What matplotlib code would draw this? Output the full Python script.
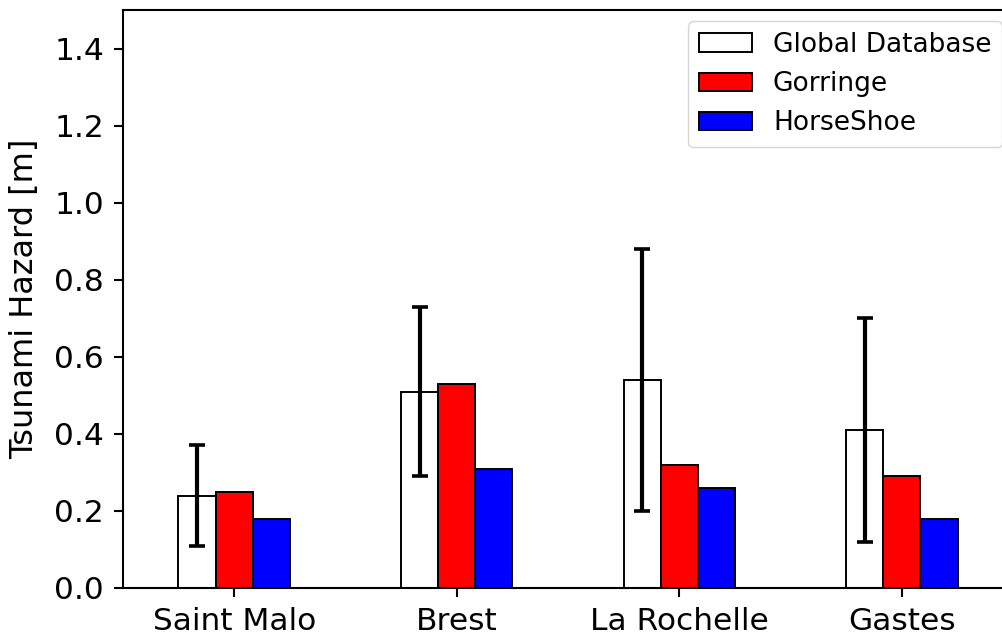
import numpy as np
import matplotlib
matplotlib.use('Agg')
import matplotlib.pyplot as plt

# 数据
sites = ['Saint Malo', 'Brest', 'La Rochelle', 'Gastes']
global_db = [0.24, 0.51, 0.54, 0.41]
global_err = [0.13, 0.22, 0.34, 0.29]
gorringe = [0.25, 0.53, 0.32, 0.29]
horseshoe = [0.18, 0.31, 0.26, 0.18]
series_labels = ['Global Database', 'Gorringe', 'HorseShoe']

fig = plt.figure(figsize=(10.03, 6.38), dpi=100)
ax = fig.add_axes([0.1226, 0.0784, 0.8874, 0.9056])

x = np.arange(len(sites))
w = 0.167
ax.bar(x - w, global_db, w, color='white', edgecolor='black', linewidth=1.4,
       label=series_labels[0])
ax.bar(x, gorringe, w, color='red', edgecolor='black', linewidth=1.4,
       label=series_labels[1])
ax.bar(x + w, horseshoe, w, color='blue', edgecolor='black', linewidth=1.4,
       label=series_labels[2])
ax.errorbar(x - w, global_db, yerr=global_err, fmt='none', ecolor='black',
            elinewidth=3, capsize=5.5, capthick=2.6)

ax.set_xlim(-0.5, 3.5)
ax.set_ylim(0, 1.5)
ax.set_yticks(np.arange(0, 1.41, 0.2))
ax.set_xticks(x)
ax.set_xticklabels(sites)
ax.set_ylabel('Tsunami Hazard [m]', fontsize=23, labelpad=10)
ax.tick_params(labelsize=22.5, length=6.5, width=1.5, pad=7)
for s in ax.spines.values():
    s.set_linewidth(1.5)

ax.legend(loc='upper right', fontsize=19, borderaxespad=0.42)

plt.savefig('out.png', dpi=100)
